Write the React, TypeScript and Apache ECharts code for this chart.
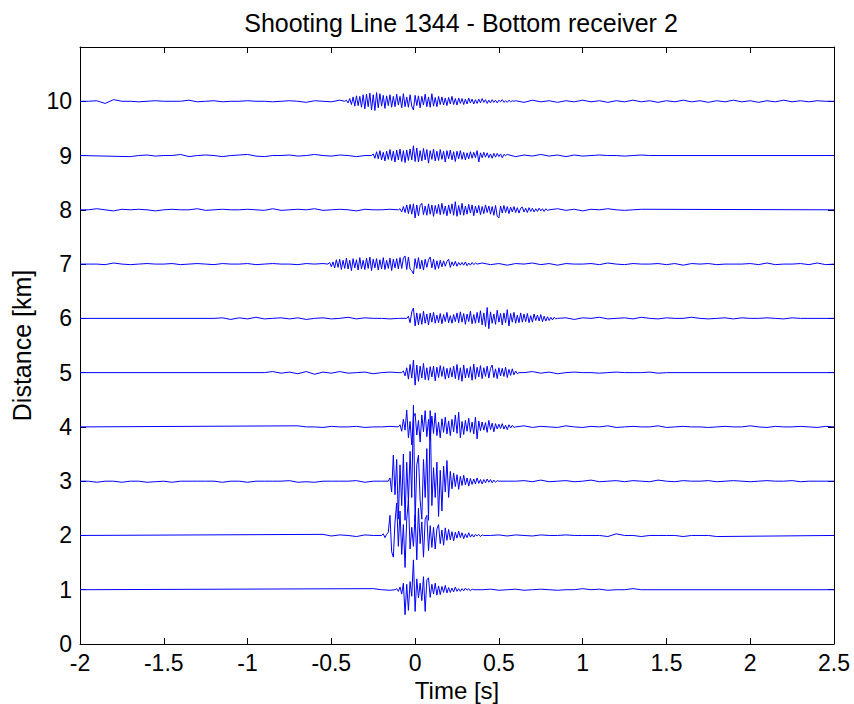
import React, { useEffect, useRef } from "react";
import * as echarts from "echarts";

// Receiver traces: distance (km) of each trace baseline
const distances = [1, 2, 3, 4, 5, 6, 7, 8, 9, 10];

// Time axis ticks (s)
const timeMin = -2;
const timeMax = 2.5;
const timeStep = 0.5;

// Amplitudes are in hundredths of a km, offsets from each baseline.
// Background noise: sampled every 0.05 s from noiseStart.
const noiseStart = [-0.25, -0.55, -1.95, -0.7, -0.9, -1.2, -2.0, -2.0, -1.7, -2.0];

const noise1 = [2, 0, -1, 1, 0, 0, 0, 0, 0, 0, 0, 0, 0, 0, 1, -1, 0, 1, -1, 0, 1, 0, -1, 0, 0, 2, 0, 1, -1, 0, 0, 2, 0];
const noise2 = [2, -1, 1, 0, -2, 1, 0, 2, -1, 0, 0, 0, 0, 0, 0, 0, 0, 0, 0, 0, 0, 1, -1, 1, 0, -1, 1, 0, 0, 1, 0, 0, 0, 0, -2, 3, 0, 0, -2, 0, 0, 0, 0, -2, 0, 0, 0, -2];
const noise3 = [0, -2, 0, 0, -2, 0, 0, -2, -1, 0, -2, 0, 0, 0, 0, 0, -2, 0, 0, -2, 0, 0, 0, 0, 1, -2, -1, -2, 0, 0, 0, 0, 1, -2, 0, 0, 0, 0, 0, 0, 0, 0, 0, 0, 0, 0, 0, 0, 0, 0, 0, 0, 1, -1, 2, -1, 0, 1, -1, 0, 2, -1, 0, 1, -1, 1, 0, -1, 2, 0, -1, 1, 0, 0, 1, -1, 0, 1, 0, -1, 0, 1, 0, 0, 1, -1, 0, 0, 0];
const noise4 = [2, 0, 0, -1, 1, 0, 0, 1, -1, 0, 0, 1, 0, 0, 0, 0, 0, 0, 0, 0, 0, 0, 0, 0, 0, 0, 0, 2, -1, 1, 0, -1, 2, 0, -1, 1, 0, 2, -1, 0, 1, 0, 0, 2, -1, 0, 1, 0, 0, -1, 0, 1, 0, 0, 2, 0, -1, 1, 0, 0, 1, 0, -1, 1];
const noise5 = [0, 2, -1, 1, -2, 2, -3, 1, -1, 2, -1, 0, 1, -2, 0, 1, 0, 0, 0, 0, 0, 0, 0, 0, 0, 0, 0, 0, 0, 0, 0, 0, 2, -1, 1, -2, 0, 1, 0, 0, -1, 0, 1, 0, 0, 0, 1, -1, 0];
const noise6 = [0, 1, -2, 1, -1, 2, -1, 0, 1, -1, 1, -2, 0, 1, -1, 0, 2, -1, 1, 0, 0, -1, 0, 0, 0, 0, 0, 0, 0, 0, 0, 0, 0, 0, 0, 0, 0, 0, 0, 0, 0, 0, 1, -2, 1, 0, 2, -1, 0, 1, -1, 2, 0, -1, 1, 0, 0, 2, 0, -1, 0, 1, -1, 1, 0, 0, 1, 0, -1, 1, 0];
const noise7 = [1, 0, 0, -1, 2, 0, -1, 0, 1, 0, 0, 1, -1, 0, 1, 0, -1, 1, 0, 0, 1, -1, 0, 1, 0, 0, -1, 1, 0, 1, 0, 0, 0, 0, 0, 0, 0, 0, 0, 0, 0, 0, 0, 0, 0, 0, 0, 0, 2, -1, 1, -2, 1, 0, 2, -1, 1, -2, 1, 0, 0, 1, -1, 2, 0, -1, 1, 0, 0, 1, -1, 1, -2, 1, 0, 1, -1, 0, 0, 0, 1, -1, 2, -1, 0, 0, 1, -1, 2, -1, 0];
const noise8 = [0, 0, 2, 0, -2, 1, 0, 1, 0, -2, 0, 1, 0, 0, 2, -1, 0, 1, 0, 0, 1, 0, -1, 2, -1, 0, 1, 0, 2, -1, 0, 1, 0, -2, 1, 0, 0, 1, 0, 0, 0, 0, 0, 0, 0, 0, 0, 0, 0, 0, 0, 0, 0, 0, 0, 0, 0, 2, -1, 1, -2, 1, 0, 2, 0, -1, 0, 1];
const noise9 = [-2, 0, 1, -1, 0, 0, 2, -2, 0, 1, 0, -2, 0, 1, 2, -1, -2, 0, 0, 1, -1, 0, 2, 0, -1, 1, 0, -2, 0, 1, 0, 0, 0, 0, 0, 0, 0, 0, 0, 0, 0, 0, 0, 0, 0, 2, -2, 1, -1, 2, -1, 1, -2, 1, -1, 0, 1, 0, 0, -1, 0, 1, 0, 0];
const noise10 = [0, 0, 1, -4, 3, 0, 0, -1, 0, 1, 0, 0, 0, 2, -1, 0, 1, -1, 0, 0, 1, 0, 0, -1, 0, 1, 0, -2, 1, 0, -1, 2, 0, 0, 0, 0, 0, 0, 0, 0, 0, 0, 0, 0, 0, 0, 0, 0, 0, 0, 0, 0, 1, -2, 2, -1, 1, -2, 1, -1, 2, -1, 1, -2, 1, -1, 2, -1, 1, -2, 1, -1, 2, -1, 1, -2, 1, -1, 2, -1, 1, -2, 1, -1, 2, -1, 1, -1, 1, 0, 0];

// Arrivals: sampled every 0.01 s from burstStart.
const burstStart = [-0.12, -0.2, -0.16, -0.1, -0.08, -0.05, -0.52, -0.1, -0.26, -0.42];

const burst1 = [0, 2, -3, 5, -8, 12, -46, 10, -38, 15, -12, 55, -40, 20, -15, 12, -20, 24, -40, 18, 22, -14, 10, -8, 12, -10, 7, -9, 6, -5, 8, -6, 4, -5, 3, -4, 5, -3, 2, -3, 2, -2, 3, -1, 2, -2, 1, 0];
const burst2 = [0, 3, -4, 2, 6, 37, -30, -40, 25, 60, -20, 45, -35, 20, -59, 30, 65, -25, 15, -20, 38, -45, 50, -15, 25, -40, 30, 37, -28, 18, -22, 15, -25, 12, 20, -15, 10, -18, 14, -9, 11, -8, 7, -10, 6, -5, 8, -4, 5, -6, 3, -4, 5, -3, 2, -3, 2, -1, 2, -2, 1, 0];
const burst3 = [0, 6, -20, 48, -25, 40, -70, 30, -45, 50, -72, 35, -40, 55, -30, 140, -75, 30, 48, -35, -70, 40, -30, 60, -72, 130, -45, 25, -30, 35, -65, 20, -55, 28, -20, 38, -30, 18, -14, 15, -10, 12, -15, 9, -8, 11, -7, 6, -9, 5, -6, 4, -5, 6, -4, 3, -5, 3, -3, 4, -2, 3, -3, 2, -2, 1, 0];
const burst4 = [0, 4, -8, 14, -6, 31, -20, 10, -33, 18, 25, -15, 12, -28, 22, -9, 30, -18, 14, -25, 20, -12, 26, -16, 9, -20, 15, -10, 18, -13, 11, -16, 14, -9, 22, -12, 27, -20, 10, -14, 12, -8, 16, -10, 9, -13, 18, -22, 11, -7, 9, -6, 8, -10, 12, -5, 7, -9, 6, -4, 5, -3, 6, -4, 3, -5, 4, -2, 3, -1, 0];
const burst5 = [0, 3, -6, 9, -12, 15, -10, 23, -23, 14, -16, 12, -10, 17, -13, 9, -14, 11, -8, 12, -15, 10, -9, 13, -7, 11, -12, 8, -10, 9, -8, 12, -11, 15, -13, 9, -16, 14, -10, 8, -9, 11, -14, 16, -12, 10, -8, 13, -11, 9, -7, 12, -10, 8, 14, -9, 7, -11, 9, -6, 8, -7, 10, -9, 6, -5, 7, -4, 3, -2, 0];
const burst6 = [0, 4, -8, 12, 19, -14, 10, -12, 9, -11, 13, -9, 8, -12, 10, -7, 11, -9, 6, -8, 9, -10, 7, -6, 11, -8, 5, -9, 7, -6, 10, -8, 12, -7, 9, -11, 8, -6, 13, -10, 7, -9, 11, -8, 14, -12, 10, -15, 20, -19, 12, -9, 8, -11, 15, -7, 9, -12, 10, -8, 16, -14, 9, -7, 11, -9, 6, -8, 10, -7, 8, -6, 9, -8, 5, -7, 8, -4, 6, -5, 7, -6, 4, -5, 3, -4, 2, -3, 2, -1, 0];
const burst7 = [0, 3, -5, 4, -7, 8, -6, 9, -10, 7, -8, 11, -9, 7, -12, 10, -7, 8, -11, 12, -9, 7, -10, 11, -8, 13, -12, 9, -7, 10, -11, 8, -9, 12, -10, 7, -8, 11, -12, 9, -7, 10, -9, 12, -8, 11, 15, -10, 13, -9, -12, -18, 10, -8, 12, -9, 7, -11, 9, -6, 8, 13, -7, 9, -10, 6, -8, 7, -5, 6, -4, 5, 9, -6, 4, -3, 5, -4, 3, -2, 3, -2, 4, -3, 2, -2, 3, -1, 2, 0];
const burst8 = [0, 2, -4, 6, -5, 9, -7, 10, -8, 11, -15, 9, -11, 8, 12, -9, 7, -10, 11, -8, 9, -12, 8, -7, 10, -9, 12, -8, 7, -11, 9, -7, 11, -10, 15, -12, 8, -9, 12, -10, 7, -8, 10, -6, 9, -11, 7, -6, 8, -9, 6, -7, 9, -5, 7, -8, 6, -10, 8, -12, -15, 7, -6, 8, -5, 6, -7, 5, -4, 6, -5, 4, -6, 3, 5, -4, 3, -5, 4, -3, 3, -4, 2, -3, 3, -2, 2, -3, 2, -1, 0];
const burst9 = [0, 3, -5, 7, -6, 9, -8, 6, -10, 8, -7, 11, -9, 8, -12, 10, -8, 12, -11, 9, -13, 10, -9, 12, -8, 18, -11, 14, -12, 9, -10, 13, -8, 11, -14, 9, -7, 12, -10, 8, -9, 11, -7, 8, -12, 9, -6, 10, -8, 7, -11, 8, -6, 9, -7, 6, -8, 5, -6, 7, -5, 6, -4, 9, -12, 5, -4, 6, -3, 5, -4, 3, -5, 4, -3, 4, -2, 3, -4, 2, 0];
const burst10 = [0, 2, -3, 5, -6, 8, -9, 10, -8, 9, -11, 12, -14, 13, -10, 15, -16, 12, -17, 16, -12, 14, -9, 11, -13, 10, -8, 12, -11, 9, -10, 13, -7, 9, -12, 14, -10, 8, -11, 12, -9, -16, 11, -8, 10, -12, 9, -7, 13, -10, 8, -11, 14, -9, 7, -10, 9, -6, 8, -7, 6, -8, 7, -5, 9, -6, 5, -7, 6, -4, 5, -6, 4, -5, 6, -3, 4, -5, 3, -4, 4, -3, 5, -2, 3, -4, 2, -3, 3, -2, 2, -3, 2, -1, 3, -2, 1, -2, 2, -1, 1, 0];

const noises = [noise1, noise2, noise3, noise4, noise5, noise6, noise7, noise8, noise9, noise10];
const bursts = [burst1, burst2, burst3, burst4, burst5, burst6, burst7, burst8, burst9, burst10];

const NOISE_DT = 0.05;
const BURST_DT = 0.01;
const AMP_UNIT = 0.01; // km per amplitude unit

const round = (v: number) => Math.round(v * 1000) / 1000;

function buildTrace(k: number): number[][] {
  const base = distances[k];
  const nStart = noiseStart[k];
  const bStart = burstStart[k];
  const burst = bursts[k];
  const bEnd = bStart + (burst.length - 1) * BURST_DT;
  const pts: number[][] = [[timeMin, base]];
  noises[k].forEach((v, i) => {
    const t = round(nStart + i * NOISE_DT);
    if (t < bStart - 1e-6 || t > bEnd + 1e-6) pts.push([t, round(base + v * AMP_UNIT)]);
  });
  burst.forEach((v, i) => {
    pts.push([round(bStart + i * BURST_DT), round(base + v * AMP_UNIT)]);
  });
  pts.push([timeMax, base]);
  pts.sort((a, b) => a[0] - b[0]);
  return pts;
}

const FONT = "'Liberation Sans', Arial, sans-serif";

export default function App() {
  const ref = useRef<HTMLDivElement>(null);

  useEffect(() => {
    document.body.style.margin = "0";
    const chart = echarts.init(ref.current!, null, { renderer: "svg" });
    const axisLine = { show: true, onZero: false, lineStyle: { color: "#000", width: 1 } };
    const tick = { show: true, inside: true, length: 6, lineStyle: { color: "#000" } };
    chart.setOption({
      animation: false,
      backgroundColor: "#fff",
      title: {
        text: "Shooting Line 1344 - Bottom receiver 2",
        left: 456,
        textAlign: "center",
        top: 5,
        textStyle: { fontFamily: FONT, fontSize: 25, fontWeight: "normal", color: "#000" },
      },
      grid: {
        left: 80,
        right: 20,
        top: 47,
        bottom: 60,
        containLabel: false,
        outerBoundsMode: "none",
      },
      xAxis: [
        {
          type: "value",
          min: timeMin,
          max: timeMax,
          interval: timeStep,
          position: "bottom",
          name: "Time [s]",
          nameLocation: "middle",
          nameGap: 33,
          nameTextStyle: { fontFamily: FONT, fontSize: 24, color: "#000" },
          axisLine,
          axisTick: tick,
          axisLabel: { fontFamily: FONT, fontSize: 23, color: "#000", margin: 7 },
          splitLine: { show: false },
        },
        {
          type: "value",
          min: timeMin,
          max: timeMax,
          interval: timeStep,
          position: "top",
          axisLine,
          axisTick: tick,
          axisLabel: { show: false },
          splitLine: { show: false },
        },
      ],
      yAxis: [
        {
          type: "value",
          min: 0,
          max: 11,
          interval: 1,
          position: "left",
          name: "Distance [km]",
          nameLocation: "middle",
          nameGap: 46,
          nameTextStyle: { fontFamily: FONT, fontSize: 25, color: "#000" },
          axisLine,
          axisTick: tick,
          axisLabel: {
            fontFamily: FONT,
            fontSize: 23,
            color: "#000",
            margin: 8,
            formatter: (v: number) => (v > 10 ? "" : String(v)),
          },
          splitLine: { show: false },
        },
        {
          type: "value",
          min: 0,
          max: 11,
          interval: 1,
          position: "right",
          axisLine,
          axisTick: tick,
          axisLabel: { show: false },
          splitLine: { show: false },
        },
      ],
      series: distances.map((d, k) => ({
        name: `${d} km`,
        type: "line",
        xAxisIndex: 0,
        yAxisIndex: 0,
        data: buildTrace(k),
        showSymbol: false,
        symbol: "none",
        silent: true,
        lineStyle: { color: "#0000ff", width: 1 },
        z: 1,
      })),
    });
    return () => chart.dispose();
  }, []);

  return (
    <div
      ref={ref}
      style={{ position: "absolute", left: 0, top: 0, width: 854, height: 704 }}
    />
  );
}
